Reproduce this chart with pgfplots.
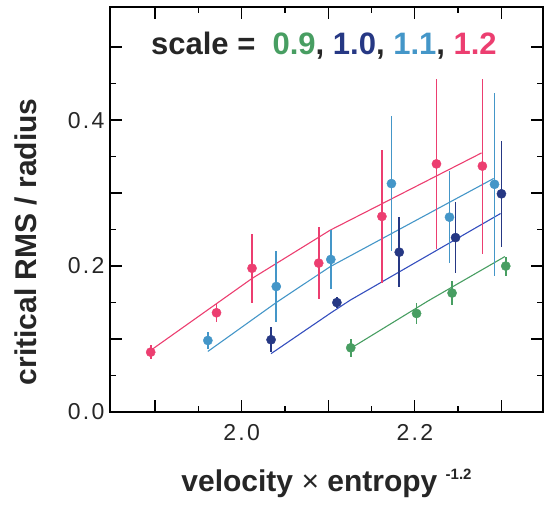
\documentclass[border=0pt]{standalone}
\usepackage{fontspec}
\setmainfont{Liberation Sans}
\newfontfamily\tickfont[LetterSpace=10]{Liberation Sans}
\usepackage{pgfplots}
\pgfplotsset{compat=1.18}

\definecolor{cgreen}{RGB}{72,158,98}
\definecolor{cdark}{RGB}{38,56,132}
\definecolor{cdarkline}{RGB}{52,78,190}
\definecolor{clight}{RGB}{68,150,200}
\definecolor{cpink}{RGB}{236,62,112}

\pgfplotsset{
  pts/.style={only marks, mark=*, mark size=4.6pt,
    error bars/y dir=both, error bars/y explicit, error bars/error mark=none,
    error bars/error bar style={line width=1.6pt}},
  fit/.style={no marks, line width=1.1pt},
}

\begin{document}
\begin{tikzpicture}
\begin{axis}[
    scale only axis,
    width=433pt, height=405pt,
    xmin=1.848, xmax=2.348,
    ymin=0, ymax=0.555,
    axis line style={line width=1.6pt},
    xtick={1.9,2.0,2.1,2.2,2.3},
    xticklabels={,2.0,,2.2,},
    minor xtick={1.95,2.05,2.15,2.25},
    ytick={0,0.1,0.2,0.3,0.4,0.5},
    yticklabels={0.0,,0.2,,0.4,},
    minor ytick={0.05,0.15,0.25,0.35,0.45},
    tick align=inside,
    major tick length=12pt,
    minor tick length=6pt,
    tick style={line width=1.3pt, black},
    tick label style={font=\fontsize{23}{25}\tickfont, text=black!85, /pgf/number format/assume math mode=true},
    xticklabel style={anchor=north, yshift=-9pt},
    yticklabel style={anchor=east, xshift=-2pt},
    xlabel={\textbf{velocity} × \textbf{entropy}\ \raisebox{0.8ex}{\fontsize{15}{15}\selectfont\bfseries -1.2}},
    ylabel={\textbf{critical RMS / radius}},
    label style={font=\fontsize{30}{32}\selectfont, text=black!85},
    xlabel style={at={(axis description cs:0.5,-0.1975)}, anchor=base},
    ylabel style={at={(axis description cs:-0.169,0.42)}, anchor=base, rotate=0},
    clip=false,
]
\coordinate (O) at (rel axis cs:0,0);

% fitted curves
\addplot[fit, cpink] coordinates {(1.895,0.0845) (2.012,0.183) (2.102,0.249) (2.277,0.355)};
\addplot[fit, clight] coordinates {(1.961,0.083) (2.040,0.150) (2.102,0.199) (2.291,0.320)};
\addplot[fit, cdarkline] coordinates {(2.034,0.080) (2.102,0.135) (2.125,0.153) (2.299,0.272)};
\addplot[fit, cgreen] coordinates {(2.127,0.088) (2.215,0.152) (2.304,0.213)};

% scale = 1.2
\addplot[pts, cpink, mark options={fill=cpink}] table[x=x, y=y, y error=e] {
x     y     e
1.895 0.082 0.010
1.971 0.136 0.013
2.012 0.197 0.047
2.089 0.204 0.049
2.162 0.268 0.091
2.225 0.340 0.117
2.278 0.337 0.120
};
% scale = 1.1
\addplot[pts, clight, mark options={fill=clight}] table[x=x, y=y, y error=e] {
x     y     e
1.961 0.098 0.012
2.040 0.172 0.049
2.103 0.209 0.040
2.173 0.313 0.093
2.240 0.267 0.063
2.292 0.312 0.125
};
% scale = 1.0
\addplot[pts, cdark, mark options={fill=cdark}] table[x=x, y=y, y error=e] {
x     y     e
2.034 0.099 0.017
2.110 0.150 0.008
2.182 0.219 0.048
2.247 0.239 0.049
2.300 0.299 0.073
};
% scale = 0.9
\addplot[pts, cgreen, mark options={fill=cgreen}] table[x=x, y=y, y error=e] {
x     y     e
2.126 0.088 0.012
2.202 0.135 0.015
2.243 0.163 0.016
2.305 0.200 0.013
};

\node[font=\fontsize{31}{33}\selectfont\bfseries, text=black!85] at (axis cs:2.095,0.502)
  {scale =\ \ \textcolor{cgreen}{0.9}, \textcolor{cdark}{1.0}, \textcolor{clight}{1.1}, \textcolor{cpink}{1.2}};
\end{axis}
\path (O) ++(-110pt,-92pt) rectangle ++(554pt,504pt);
\end{tikzpicture}
\end{document}
